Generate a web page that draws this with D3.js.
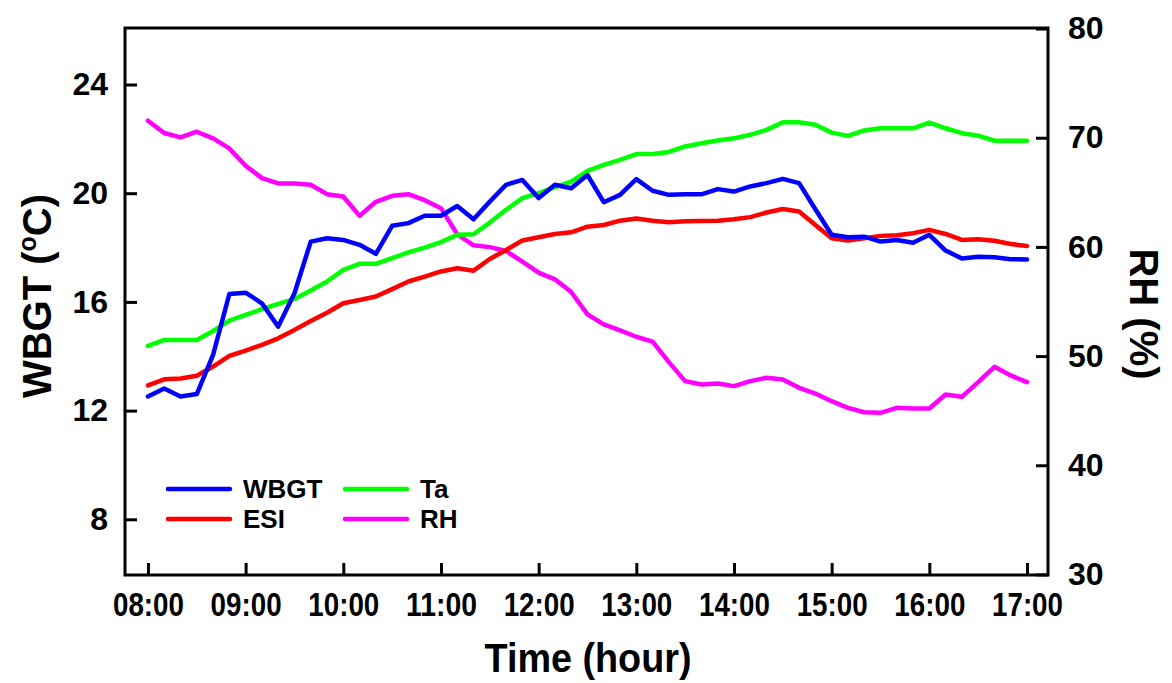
<!DOCTYPE html>
<html>
<head>
<meta charset="utf-8">
<script src="https://cdn.jsdelivr.net/npm/d3@7/dist/d3.min.js"></script>
<style>
  html, body { margin: 0; padding: 0; background: #fff; }
  svg { display: block; }
  text { font-family: "Liberation Sans", Arial, sans-serif; font-weight: bold; fill: #000; }
</style>
</head>
<body>
<svg id="chart" width="1172" height="683"></svg>
<script>
const times = ["08:00","08:10","08:20","08:30","08:40","08:50",
  "09:00","09:10","09:20","09:30","09:40","09:50",
  "10:00","10:10","10:20","10:30","10:40","10:50",
  "11:00","11:10","11:20","11:30","11:40","11:50",
  "12:00","12:10","12:20","12:30","12:40","12:50",
  "13:00","13:10","13:20","13:30","13:40","13:50",
  "14:00","14:10","14:20","14:30","14:40","14:50",
  "15:00","15:10","15:20","15:30","15:40","15:50",
  "16:00","16:10","16:20","16:30","16:40","16:50",
  "17:00"];

const wbgt = [12.52,12.81,12.52,12.61,14.05,16.29,16.34,15.95,15.09,16.32,18.22,18.34,
  18.28,18.10,17.77,18.80,18.90,19.17,19.17,19.53,19.04,19.69,20.31,20.49,
  19.82,20.31,20.18,20.67,19.67,19.94,20.52,20.09,19.94,19.96,19.96,20.15,
  20.06,20.25,20.37,20.53,20.37,19.41,18.47,18.38,18.40,18.22,18.28,18.18,
  18.47,17.89,17.60,17.66,17.64,17.57,17.56];

const esi = [12.93,13.15,13.18,13.28,13.62,14.01,14.21,14.42,14.66,14.97,15.30,15.60,
  15.95,16.07,16.20,16.47,16.75,16.93,17.12,17.24,17.15,17.58,17.91,18.26,
  18.38,18.50,18.56,18.77,18.83,18.99,19.07,18.99,18.93,18.97,18.98,18.99,
  19.04,19.12,19.29,19.42,19.33,18.83,18.34,18.26,18.34,18.43,18.45,18.53,
  18.65,18.50,18.28,18.31,18.25,18.13,18.06];

const ta = [14.38,14.60,14.60,14.60,14.93,15.31,15.52,15.73,15.93,16.11,16.42,16.75,
  17.18,17.40,17.40,17.61,17.82,18.00,18.20,18.47,18.49,18.92,19.39,19.82,
  20.00,20.22,20.43,20.82,21.04,21.23,21.44,21.44,21.52,21.72,21.84,21.94,
  22.02,22.15,22.33,22.61,22.61,22.52,22.23,22.11,22.31,22.39,22.39,22.39,
  22.60,22.39,22.21,22.12,21.93,21.93,21.93];

const rh = [71.56,70.43,70.03,70.55,69.94,69.02,67.43,66.30,65.81,65.81,65.69,64.83,
  64.62,62.84,64.13,64.68,64.83,64.28,63.55,61.16,60.15,59.98,59.63,58.65,
  57.65,57.03,55.87,53.82,52.91,52.36,51.77,51.32,49.45,47.71,47.40,47.49,
  47.25,47.71,48.01,47.86,47.09,46.57,45.87,45.26,44.86,44.80,45.26,45.20,
  45.20,46.48,46.27,47.61,49.02,48.23,47.61];

const xTickLabels = ["08:00","09:00","10:00","11:00","12:00","13:00","14:00","15:00","16:00","17:00"];
const yLeftTicks = [8, 12, 16, 20, 24];
const yRightTicks = [30, 40, 50, 60, 70, 80];

const seriesColors = {WBGT: "#0000ff", ESI: "#ff0000", Ta: "#00ff00", RH: "#ff00ff"};

const toMin = s => { const [h, m] = s.split(":").map(Number); return (h - 8) * 60 + m; };

const L = 125, R = 1048, T = 28, B = 575;
const svg = d3.select("#chart");

const x = d3.scaleLinear().domain([-14.1, 552.9]).range([L, R]);
const yL = d3.scaleLinear().domain([5.95, 26.08]).range([B, T]);
const yR = d3.scaleLinear().domain([29.95, 80.05]).range([B, T]);

// data lines
const series = [
  {name: "RH", vals: rh, y: yR},
  {name: "Ta", vals: ta, y: yL},
  {name: "ESI", vals: esi, y: yL},
  {name: "WBGT", vals: wbgt, y: yL}
];
series.forEach(s => {
  const line = d3.line()
    .x((d, i) => x(toMin(times[i])))
    .y(d => s.y(d));
  svg.append("path")
    .datum(s.vals)
    .attr("d", line)
    .attr("fill", "none")
    .attr("stroke", seriesColors[s.name])
    .attr("stroke-width", 4.5)
    .attr("stroke-linejoin", "round")
    .attr("stroke-linecap", "round");
});

// axes
const gx = svg.append("g").attr("transform", `translate(0,${B})`)
  .call(d3.axisBottom(x).tickValues(xTickLabels.map(toMin))
    .tickFormat((d, i) => xTickLabels[i]).tickSize(-12).tickPadding(18));
const gl = svg.append("g").attr("transform", `translate(${L},0)`)
  .call(d3.axisLeft(yL).tickValues(yLeftTicks).tickFormat(d3.format("d")).tickSize(-12).tickPadding(17));
const gr = svg.append("g").attr("transform", `translate(${R},0)`)
  .call(d3.axisRight(yR).tickValues(yRightTicks).tickFormat(d3.format("d")).tickSize(-12).tickPadding(20));

[gx, gl, gr].forEach(g => {
  g.select(".domain").remove();
  g.selectAll(".tick line").attr("stroke", "#000").attr("stroke-width", 3);
  g.selectAll(".tick text").attr("fill", "#000").style("font-family", '"Liberation Sans", Arial, sans-serif').style("font-weight", "bold");
});
gx.selectAll(".tick text").style("font-size", "33px")
  .attr("textLength", 71).attr("lengthAdjust", "spacingAndGlyphs");
gl.selectAll(".tick text").style("font-size", "32px");
gr.selectAll(".tick text").style("font-size", "32px");

// frame
svg.append("rect").attr("x", L).attr("y", T).attr("width", R - L).attr("height", B - T)
  .attr("fill", "none").attr("stroke", "#000").attr("stroke-width", 3);

// titles
const lt = svg.append("text").attr("transform", `translate(51,296) rotate(-90)`)
  .attr("text-anchor", "middle").style("font-size", "40px");
lt.append("tspan").text("WBGT (");
lt.append("tspan").text("o").style("font-size", "25px").attr("dy", -15);
lt.append("tspan").text("C)").attr("dy", 15);

svg.append("text").attr("transform", `translate(1130,314) rotate(90)`)
  .attr("text-anchor", "middle").style("font-size", "40px").text("RH (%)");

svg.append("text").attr("x", 588).attr("y", 672)
  .attr("text-anchor", "middle").style("font-size", "40px")
  .attr("textLength", 207).attr("lengthAdjust", "spacingAndGlyphs").text("Time (hour)");

// legend
const legendPos = [
  {name: "WBGT", lx: 168, ly: 489},
  {name: "ESI", lx: 168, ly: 519},
  {name: "Ta", lx: 345, ly: 489},
  {name: "RH", lx: 345, ly: 519}
];
const lg = svg.append("g");
legendPos.forEach(p => {
  lg.append("line").attr("x1", p.lx).attr("x2", p.lx + 62).attr("y1", p.ly).attr("y2", p.ly)
    .attr("stroke", seriesColors[p.name]).attr("stroke-width", 4.5).attr("stroke-linecap", "round");
  lg.append("text").attr("x", p.lx + 75).attr("y", p.ly + 9).style("font-size", "26px").text(p.name);
});
</script>
</body>
</html>
